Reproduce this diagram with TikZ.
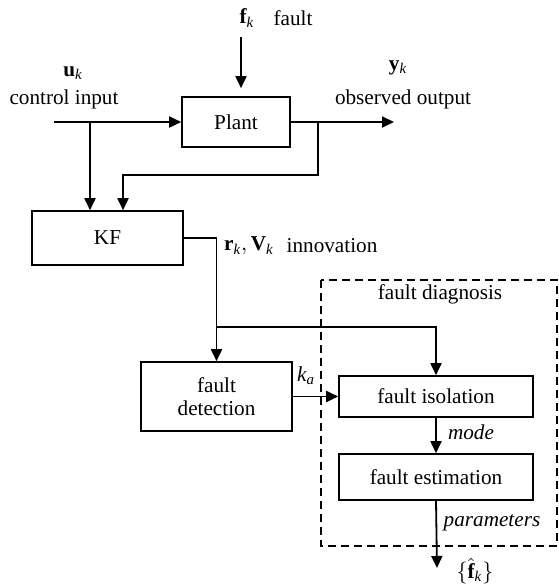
\documentclass[tikz,border=0pt]{standalone}
\usepackage{amsmath}
\usepackage{fontspec}
\setmainfont{Liberation Serif}
\usetikzlibrary{arrows.meta}

\newcommand{\ks}{_{\textit{k}}}

\begin{document}
\begin{tikzpicture}[
  x=0.5pt, y=-0.5pt,
  >={Triangle[length=6pt,width=5.5pt]},
  line width=0.9pt,
  font=\fontsize{10.6}{11.5}\selectfont,
  box/.style={draw, rectangle, inner sep=0pt, line width=0.8pt, align=center},
  lbl/.style={inner sep=0pt},
]
\useasboundingbox (0,0) rectangle (558,588);

% blocks
\node[box, minimum width=54pt, minimum height=25pt] (plant) at (236,122) {Plant};
\node[box, minimum width=75.5pt, minimum height=27pt] (kf) at (107.5,238) {KF};
\node[box, minimum width=75.5pt, minimum height=34.5pt] (det) at (216.5,396.5) {fault\\detection};
\node[box, minimum width=97pt, minimum height=20.5pt] (iso) at (436,396.5) {fault isolation};
\node[box, minimum width=97pt, minimum height=23pt] (est) at (436,477) {fault estimation};

% labels
\node[lbl] (fk) at (247,18) {$\mathbf{f}\ks$};
\node[lbl] (fault) at (293,18) {fault};
\node[lbl] (uk) at (73,73) {$\mathbf{u}\ks$};
\node[lbl] (uin) at (64,99) {control input};
\node[lbl] (yk) at (398,68) {$\mathbf{y}\ks$};
\node[lbl] (yout) at (403,99) {observed output};
\node[lbl] (rv) at (249,246) {$\mathbf{r}\ks,\mathbf{V}\ks$};
\node[lbl] (innov) at (332,246) {innovation};
\node[lbl] (diagl) at (440,294) {fault diagnosis};
\node[lbl] (ka) at (306,376) {$\textit{k}_{\textit{a}}$};
\node[lbl] (mode) at (471,432) {\itshape mode};
\node[lbl] (param) at (492,523) {\itshape parameters};
\node[lbl] (fhat) at (475,571) {$\{\hat{\mathbf{f}}\ks\}$};

% free ends and branch points
\coordinate (fin) at (241,37);
\coordinate (uin0) at (54,122);
\coordinate (ub) at (90,122);
\coordinate (yend) at (394,122);
\coordinate (yb) at (318,122);
\coordinate (fb) at (123,175);
\coordinate (jn) at (217,327);
\coordinate (fend) at (437,568);

% connectors
\draw[->, shorten >=4pt] (fin) -- (plant.north -| fin);
\draw[->] (uin0) -- (plant.west);
\draw[->] (plant.east) -- (yend);
\draw[->] (ub) -- (ub |- kf.north);
\draw[->] (yb) |- (fb) -- (fb |- kf.north);
\draw[->] (kf.east) -| (det.north);
\draw[->] (jn) -| (iso.north);
\draw[->] (det.east |- iso.west) -- (iso.west);
\draw[->] (iso.south) -- (est.north);
\draw[->] (est.south) -- (fend);

% fault diagnosis frame
\draw[dashed, line width=0.8pt, dash pattern=on 4pt off 2.5pt] (321,280) rectangle (557,546);

\end{tikzpicture}
\end{document}
